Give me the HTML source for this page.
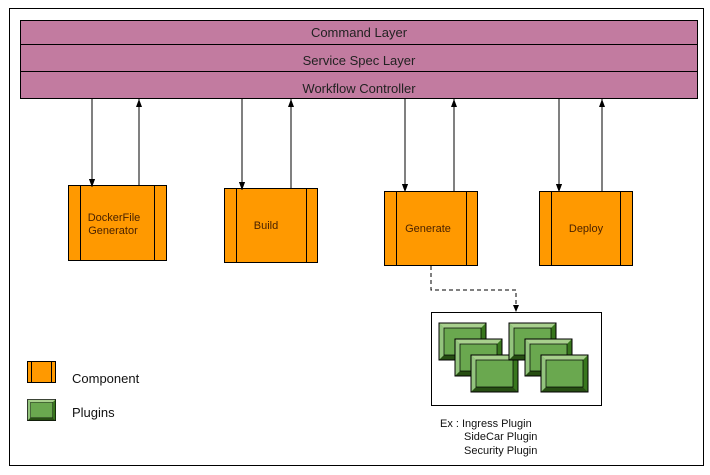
<!DOCTYPE html>
<html><head><meta charset="utf-8"><style>
html,body{margin:0;padding:0;background:#fff;}
svg{display:block;}
text{font-family:"Liberation Sans",Arial,sans-serif;}
</style></head><body>
<svg width="710" height="475" viewBox="0 0 710 475" xmlns="http://www.w3.org/2000/svg">
<defs>
<marker id="ah" markerWidth="8" markerHeight="6" refX="8" refY="3" orient="auto" markerUnits="userSpaceOnUse">
<path d="M0,0 L8,3 L0,6 z" fill="#000"/>
</marker>
<g id="pl">
<rect x="0" y="0" width="47" height="37" fill="#6aa84f" stroke="#000" stroke-width="1"/>
<polygon points="0,0 47,0 42,5 5,5" fill="#a8d08d"/>
<polygon points="0,0 5,5 5,32 0,37" fill="#93c47d"/>
<polygon points="47,0 47,37 42,32 42,5" fill="#38761d"/>
<polygon points="0,37 47,37 42,32 5,32" fill="#274e13"/>
<rect x="5" y="5" width="37" height="27" fill="#6aa84f" stroke="#000" stroke-width="0.7"/>
<rect x="0" y="0" width="47" height="37" fill="none" stroke="#000" stroke-width="1"/>
</g>
</defs>
<rect x="9.5" y="8.5" width="694" height="457" fill="#fff" stroke="#000" stroke-width="1"/>
<rect x="20.5" y="20.5" width="677" height="78" fill="#c27ba0" stroke="#000" stroke-width="1"/>
<line x1="20" y1="44.5" x2="697" y2="44.5" stroke="#000"/>
<line x1="20" y1="71.5" x2="697" y2="71.5" stroke="#000"/>
<g font-size="13" fill="#222" text-anchor="middle">
<text x="359" y="37">Command Layer</text>
<text x="359" y="65">Service Spec  Layer</text>
<text x="359" y="93">Workflow Controller</text>
</g>
<g stroke="#000" stroke-width="1" fill="none">
<line x1="92" y1="99" x2="92" y2="187" marker-end="url(#ah)"/>
<line x1="139" y1="185" x2="139" y2="99" marker-end="url(#ah)"/>
<line x1="242" y1="99" x2="242" y2="190" marker-end="url(#ah)"/>
<line x1="291" y1="188" x2="291" y2="99" marker-end="url(#ah)"/>
<line x1="405" y1="99" x2="405" y2="192" marker-end="url(#ah)"/>
<line x1="454" y1="191" x2="454" y2="99" marker-end="url(#ah)"/>
<line x1="559" y1="99" x2="559" y2="192" marker-end="url(#ah)"/>
<line x1="602" y1="191" x2="602" y2="99" marker-end="url(#ah)"/>
</g>
<g fill="#ff9900" stroke="#000" stroke-width="1">
<rect x="68.5" y="185.5" width="98" height="75"/>
<line x1="80.5" y1="185" x2="80.5" y2="260"/><line x1="154.5" y1="185" x2="154.5" y2="260"/>
<rect x="224.5" y="188.5" width="93" height="74"/>
<line x1="236.5" y1="188" x2="236.5" y2="262"/><line x1="306.5" y1="188" x2="306.5" y2="262"/>
<rect x="384.5" y="191.5" width="93" height="74"/>
<line x1="396.5" y1="191" x2="396.5" y2="265"/><line x1="466.5" y1="191" x2="466.5" y2="265"/>
<rect x="539.5" y="191.5" width="93" height="74"/>
<line x1="551.5" y1="191" x2="551.5" y2="265"/><line x1="620.5" y1="191" x2="620.5" y2="265"/>
</g>
<g stroke="#000" stroke-width="1" fill="none">
<line x1="92" y1="180" x2="92" y2="187" marker-end="url(#ah)"/>
<line x1="242" y1="183" x2="242" y2="190" marker-end="url(#ah)"/>
<line x1="405" y1="185" x2="405" y2="192" marker-end="url(#ah)"/>
<line x1="559" y1="185" x2="559" y2="192" marker-end="url(#ah)"/>
</g>
<g font-size="11" fill="#4a2200" text-anchor="middle">
<text x="114" y="221">DockerFile</text>
<text x="113" y="234">Generator</text>
<text x="266" y="229">Build</text>
<text x="428" y="232">Generate</text>
<text x="586" y="232">Deploy</text>
</g>
<polyline points="431,266 431,290 516,290 516,306" fill="none" stroke="#000" stroke-dasharray="4,3"/>
<path d="M513,305 L519,305 L516,312 z" fill="#000"/>
<rect x="431.5" y="312.5" width="170" height="93" fill="#fff" stroke="#000"/>
<use href="#pl" x="439" y="323"/>
<use href="#pl" x="455" y="339"/>
<use href="#pl" x="471" y="355"/>
<use href="#pl" x="509" y="323"/>
<use href="#pl" x="525" y="339"/>
<use href="#pl" x="541" y="355"/>
<g font-size="11" fill="#111">
<text x="440" y="427">Ex : Ingress Plugin</text>
<text x="464" y="440">SideCar Plugin</text>
<text x="464" y="454">Security Plugin</text>
</g>
<rect x="27.5" y="361.5" width="28" height="21" fill="#ff9900" stroke="#000"/>
<line x1="31.5" y1="361" x2="31.5" y2="382" stroke="#000"/>
<line x1="51.5" y1="361" x2="51.5" y2="382" stroke="#000"/>
<g transform="translate(27.5,399.5) scale(0.6,0.57)"><use href="#pl"/></g>
<g font-size="13" fill="#111">
<text x="72" y="383">Component</text>
<text x="72" y="417">Plugins</text>
</g>
</svg>
</body></html>
